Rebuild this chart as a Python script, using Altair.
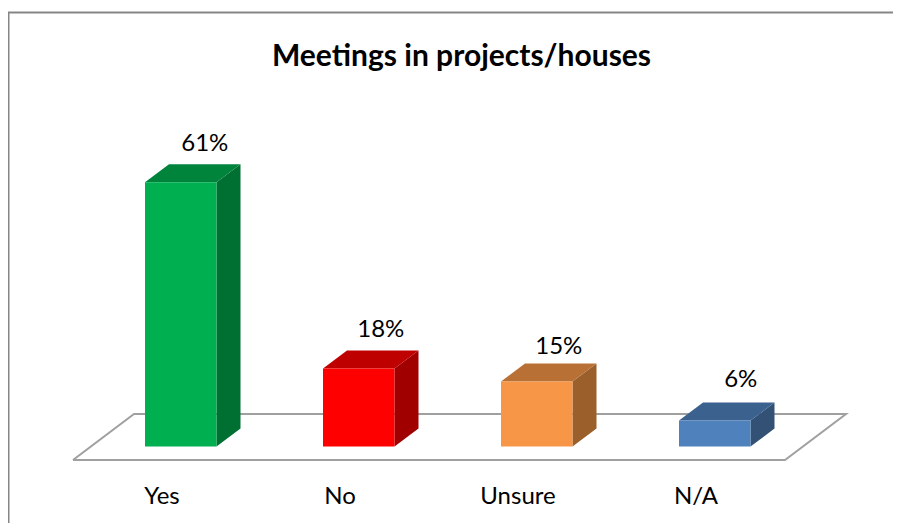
import altair as alt
import pandas as pd

categories = ["Yes", "No", "Unsure", "N/A"]
values = [61, 18, 15, 6]
labels = ["61%", "18%", "15%", "6%"]
front_colors = ["#00B050", "#FF0000", "#F79646", "#4F81BD"]
top_colors = ["#00843C", "#BF0000", "#B97035", "#3B618E"]
side_colors = ["#006F32", "#A00000", "#9B5F2C", "#325175"]

title_text = "Meetings in projects/houses"

# layout (chart units: x in px from chart left, y in percent)
W, H = 885, 515
PX_PER_PCT = 4.33
BASE_PY = 438.5        # baseline, px from chart top
def py2v(py):
    return (BASE_PY - py) / PX_PER_PCT
FIRST_LEFT, STEP, BAR_W = 137, 178, 71.5
DX, DY = 24, 18 / PX_PER_PCT

x_scale = alt.Scale(domain=[0, W], range=[0, W], nice=False, zero=False)
y_scale = alt.Scale(domain=[py2v(H), py2v(0)], range=[H, 0], nice=False, zero=False)
X = lambda f: alt.X(f, type="quantitative", scale=x_scale, axis=None)
Y = lambda f: alt.Y(f, type="quantitative", scale=y_scale, axis=None, stack=None)

front, sides, tops, vlabels, clabels = [], [], [], [], []
label_nudge_x = [0, -2, -2, 2]
label_nudge_y = [38, 39, 35, 41]
for i, (c, v, t) in enumerate(zip(categories, values, labels)):
    x0 = FIRST_LEFT + i * STEP
    x1 = x0 + BAR_W
    front.append(dict(x=x0, x2=x1, y=0, y2=v, c=front_colors[i]))
    sides += [dict(x=x1, y=v, y2=0, c=side_colors[i]),
              dict(x=x1 + DX, y=v + DY, y2=DY, c=side_colors[i])]
    tops += [dict(y=v, x=x0, x2=x1, c=top_colors[i]),
             dict(y=v + DY, x=x0 + DX, x2=x1 + DX, c=top_colors[i])]
    vlabels.append(dict(x=x0 + BAR_W / 2 + 24 + label_nudge_x[i],
                        y=v + label_nudge_y[i] / PX_PER_PCT, t=t))
    clabels.append(dict(x=x0 + 17, y=py2v(488.5), t=c))

floor = pd.DataFrame([
    dict(o=0, x=65, y=py2v(452)),
    dict(o=1, x=777, y=py2v(452)),
    dict(o=2, x=838, y=py2v(406)),
    dict(o=3, x=126, y=py2v(406)),
    dict(o=4, x=65, y=py2v(452)),
])

FONT = "Lato"
color = alt.Color("c:N", scale=None, legend=None)

border_left = alt.Chart(pd.DataFrame({"a": [0]})).mark_rule(color="#868686", strokeWidth=2).encode(
    x=alt.value(0.5), y=alt.value(4), y2=alt.value(H))
border_top = alt.Chart(pd.DataFrame({"a": [0]})).mark_rule(color="#868686", strokeWidth=2).encode(
    x=alt.value(0), x2=alt.value(W), y=alt.value(4.5))

floor_layer = alt.Chart(floor).mark_line(color="#A0A0A0", strokeWidth=2, strokeJoin="miter").encode(
    x=X("x"), y=Y("y"), order="o:Q")

front_layer = alt.Chart(pd.DataFrame(front)).mark_rect().encode(
    x=X("x"), x2="x2:Q", y=Y("y"), y2="y2:Q", color=color)
side_layer = alt.Chart(pd.DataFrame(sides)).mark_area(orient="vertical").encode(
    x=X("x"), y=Y("y"), y2="y2:Q", color=color)
top_layer = alt.Chart(pd.DataFrame(tops)).mark_area(orient="horizontal").encode(
    y=Y("y"), x=X("x"), x2="x2:Q", color=color)

value_text = alt.Chart(pd.DataFrame(vlabels)).mark_text(
    font=FONT, fontSize=24, color="#000000", align="center", baseline="middle").encode(
    x=X("x"), y=Y("y"), text="t:N")
cat_text = alt.Chart(pd.DataFrame(clabels)).mark_text(
    font=FONT, fontSize=24, color="#000000", align="center", baseline="middle").encode(
    x=X("x"), y=Y("y"), text="t:N")
title_layer = alt.Chart(pd.DataFrame([dict(x=453.5, y=py2v(49), t=title_text)])).mark_text(
    font=FONT, fontSize=30, fontWeight="bold", color="#000000", align="center", baseline="middle").encode(
    x=X("x"), y=Y("y"), text="t:N")

chart = alt.layer(
    border_left, border_top, floor_layer, side_layer, top_layer, front_layer,
    value_text, cat_text, title_layer
).properties(width=W, height=H, padding=0, background="#FFFFFF",
             autosize=alt.AutoSizeParams(type="none")
).configure_view(stroke=None)

chart.save("out.html", embed_options={"renderer": "svg", "actions": False})
